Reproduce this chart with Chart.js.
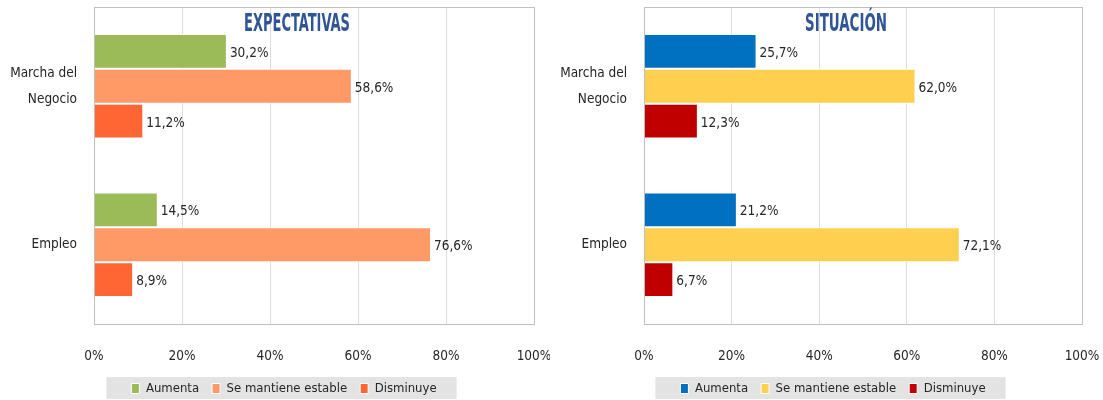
<!DOCTYPE html>
<html>
<head>
<meta charset="utf-8">
<script src="https://cdn.jsdelivr.net/npm/chart.js@4/dist/chart.umd.min.js"></script>
<style>
  body { margin: 0; background: #fff; }
  .wrap { display: flex; width: 1103px; height: 400px; }
  .box { position: relative; height: 400px; }
</style>
</head>
<body>
<div class="wrap">
  <div class="box" style="width:550px"><canvas id="expect"></canvas></div>
  <div class="box" style="width:553px"><canvas id="situ"></canvas></div>
</div>
<script>
const categories = [["Marcha del", "Negocio"], "Empleo"];
const seriesNames = ["Aumenta", "Se mantiene estable", "Disminuye"];
const xTicks = [0, 20, 40, 60, 80, 100];

// Expectativas
const expAumenta = [30.2, 14.5];
const expEstable = [58.6, 76.6];
const expDisminuye = [11.2, 8.9];

// Situación
const sitAumenta = [25.7, 21.2];
const sitEstable = [62.0, 72.1];
const sitDisminuye = [12.3, 6.7];

const FONT = "'DejaVu Sans Condensed', 'DejaVu Sans', sans-serif";

// value labels at the end of each bar
const barLabels = {
    id: 'barLabels',
    afterDatasetsDraw(chart) {
        const ctx = chart.ctx;
        ctx.save();
        ctx.font = "13.5px " + FONT;
        ctx.fillStyle = "#262626";
        ctx.textAlign = "left";
        ctx.textBaseline = "middle";
        chart.data.datasets.forEach((ds, i) => {
            chart.getDatasetMeta(i).data.forEach((bar, j) => {
                let txt = ds.data[j].toFixed(1).replace('.', ',') + '%';
                ctx.fillText(txt, bar.x + 3, bar.y + 2);
            });
        });
        ctx.restore();
    }
};

// frame round the plot + title inside + grey legend band
const decor = {
    id: 'decor',
    afterLayout(chart) {
        // the legend sits a little right of the canvas centre
        if (chart.legend) {
            chart.legend.left += 17;
            chart.legend.right += 17;
        }
    },
    beforeDraw(chart, args, opts) {
        const ctx = chart.ctx;
        const lg = chart.legend;
        if (lg && lg.legendHitBoxes && lg.legendHitBoxes.length) {
            let hb = lg.legendHitBoxes;
            let last = hb[hb.length - 1];
            let l = hb[0].left - 25;
            let r = last.left + last.width + 20;
            ctx.save();
            ctx.fillStyle = "#e3e3e3";
            ctx.fillRect(l, 377, r - l, 22);
            ctx.restore();
        }
    },
    afterDraw(chart, args, opts) {
        const ctx = chart.ctx;
        const a = chart.chartArea;
        ctx.save();
        ctx.strokeStyle = "#bfbfbf";
        ctx.lineWidth = 1;
        ctx.strokeRect(Math.round(a.left) + 0.5, Math.round(a.top) + 0.5,
            Math.round(a.right - a.left), Math.round(a.bottom - a.top));
        // narrow bold title, squeezed to the width it has in the picture
        ctx.font = "bold 24px " + FONT;
        ctx.fillStyle = "#2f5597";
        ctx.textAlign = "center";
        ctx.textBaseline = "middle";
        let w = ctx.measureText(opts.text).width;
        ctx.translate((a.left + a.right) / 2 - 17, 25);
        ctx.scale(opts.width / w, 1);
        ctx.fillText(opts.text, 0, 0);
        ctx.restore();
    }
};

function makeChart(id, title, titleWidth, values, colors, padRight) {
    const ctx = document.getElementById(id);
    new Chart(ctx, {
        type: 'bar',
        data: {
            labels: categories,
            datasets: seriesNames.map((name, i) => ({
                label: name,
                data: values[i],
                backgroundColor: colors[i],
                borderColor: "#ffffff",
                borderWidth: 1,
                categoryPercentage: 0.66,
                barPercentage: 1.0
            }))
        },
        options: {
            indexAxis: 'y',
            responsive: true,
            maintainAspectRatio: false,
            animation: false,
            layout: { padding: { top: 7, right: padRight, left: 0, bottom: -5 } },
            scales: {
                x: {
                    min: 0,
                    max: 100,
                    afterBuildTicks: (s) => { s.ticks = xTicks.map(v => ({ value: v })); },
                    afterFit: (s) => {
                        s.height = 45;
                        s.paddingLeft = 0;
                        s.paddingRight = 0;
                    },
                    grid: { color: "#dedede", drawTicks: false },
                    border: { display: false },
                    ticks: {
                        padding: 24,
                        color: "#262626",
                        font: { family: FONT, size: 13.5 },
                        callback: (v) => v + '%'
                    }
                },
                y: {
                    afterFit: (s) => {
                        s.width = 94;
                        s.paddingTop = 0;
                        s.paddingBottom = 0;
                    },
                    grid: { display: false, drawTicks: false },
                    border: { display: false },
                    ticks: {
                        padding: 17,
                        color: "#262626",
                        font: { family: FONT, size: 13.5, lineHeight: 1.9 }
                    }
                }
            },
            plugins: {
                decor: { text: title, width: titleWidth },
                tooltip: { enabled: false },
                legend: {
                    position: 'bottom',
                    labels: {
                        boxWidth: 8,
                        boxHeight: 10,
                        padding: 13,
                        color: "#262626",
                        font: { family: FONT, size: 13 }
                    }
                }
            }
        },
        plugins: [barLabels, decor]
    });
}

makeChart('expect', 'EXPECTATIVAS', 106,
    [expAumenta, expEstable, expDisminuye],
    ["#9bbb59", "#ff9966", "#ff6633"], 16);

makeChart('situ', 'SITUACIÓN', 82,
    [sitAumenta, sitEstable, sitDisminuye],
    ["#0070c0", "#ffd050", "#c00000"], 21);
</script>
</body>
</html>
